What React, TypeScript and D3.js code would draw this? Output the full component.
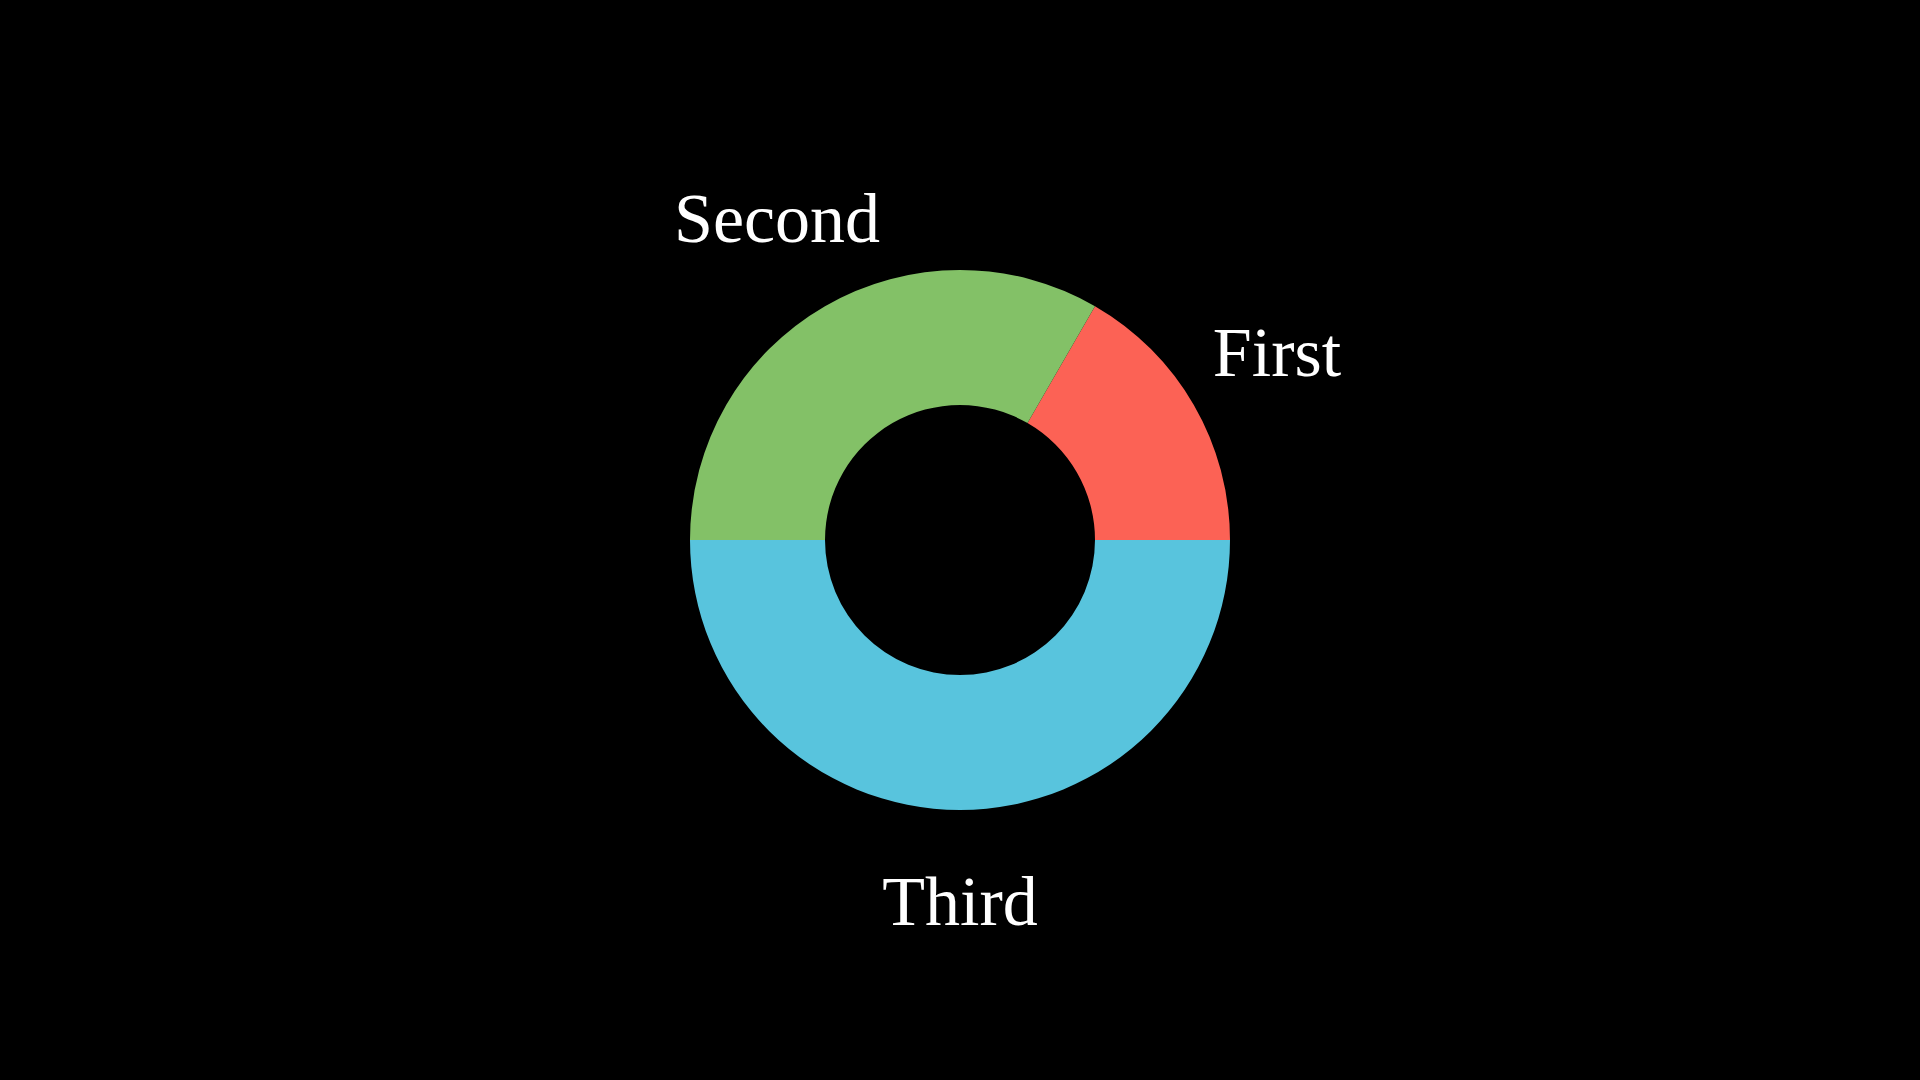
import React, { useEffect, useRef } from 'react';
import * as d3 from 'd3';

// slice labels and their values
const categories = ['First', 'Second', 'Third'];
const values = [1, 2, 3];
const colors = ['#FC6255', '#83C167', '#58C4DD'];

const App = () => {
  const svgRef = useRef<SVGSVGElement>(null);

  useEffect(() => {
    const width = 1920;
    const height = 1080;
    const outerR = 270;
    const innerR = 135;
    const labelR = 366;
    const fontSize = 70;

    const svg = d3.select(svgRef.current);
    svg.selectAll('*').remove();

    svg.append('rect')
      .attr('width', width)
      .attr('height', height)
      .attr('fill', '#000');

    const g = svg.append('g')
      .attr('transform', `translate(${width / 2},${height / 2})`);

    const data = categories.map((name, i) => ({ name, value: values[i], color: colors[i] }));

    // start at 3 o'clock and run counterclockwise
    const pie = d3.pie<any>()
      .sort(null)
      .value(d => d.value)
      .startAngle(Math.PI / 2)
      .endAngle(Math.PI / 2 - 2 * Math.PI);

    const arcs = pie(data);

    const arc = d3.arc<any>()
      .innerRadius(innerR)
      .outerRadius(outerR);

    const labelArc = d3.arc<any>()
      .innerRadius(labelR)
      .outerRadius(labelR);

    g.selectAll('path')
      .data(arcs)
      .join('path')
      .attr('d', arc)
      .attr('fill', d => d.data.color);

    g.selectAll('text')
      .data(arcs)
      .join('text')
      .attr('x', d => labelArc.centroid(d)[0])
      .attr('y', d => labelArc.centroid(d)[1] + fontSize * 0.27)
      .attr('text-anchor', 'middle')
      .attr('font-family', '"Liberation Serif", serif')
      .attr('font-size', fontSize)
      .attr('fill', '#fff')
      .text(d => d.data.name);
  }, []);

  return (
    <div style={{ position: 'fixed', left: 0, top: 0, width: 1920, height: 1080, background: '#000' }}>
      <svg ref={svgRef} width={1920} height={1080} style={{ display: 'block' }}></svg>
    </div>
  );
};

export default App;
